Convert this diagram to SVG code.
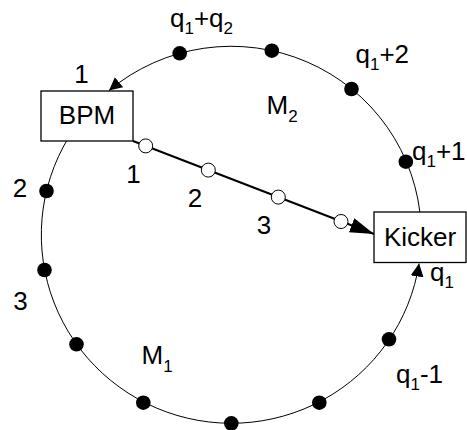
<svg xmlns="http://www.w3.org/2000/svg" width="467" height="430" viewBox="0 0 467 430">
<style>
text{font-family:"Liberation Sans",Arial,sans-serif;font-size:26px;fill:#000}
.s{font-size:17px}
.ring{fill:none;stroke:#000;stroke-width:1}
.beam{fill:none;stroke:#000;stroke-width:2}
.dot{fill:#000}
.odot{fill:#fff;stroke:#000;stroke-width:1}
.box{fill:#fff;stroke:#000;stroke-width:1.3}
</style>
<defs>
<marker id="a" markerUnits="userSpaceOnUse" markerWidth="14" markerHeight="14" refX="13" refY="6.5" orient="auto"><path d="M0,0 L13,6.5 L0,13 z" fill="#000"/></marker>
<marker id="b" markerUnits="userSpaceOnUse" markerWidth="26" markerHeight="16" refX="24" refY="7.5" orient="auto"><path d="M0,0 L24,7.5 L0,15 z" fill="#000"/></marker>
</defs>
<g id="connectors">
<path class="ring" d="M421,224.9 A190,188.5 0 0 0 109,90.5" marker-end="url(#a)"/>
<path class="ring" d="M80.6,120 A190,188.5 0 1 0 419.1,263.5" marker-end="url(#a)"/>
<path class="beam" d="M133,141 L374,234" marker-end="url(#b)"/>
</g>
<g id="dots">
<circle class="dot" cx="179.7" cy="53.3" r="7.3"/>
<circle class="dot" cx="271.8" cy="50.7" r="7.3"/>
<circle class="dot" cx="351.5" cy="89" r="7.3"/>
<circle class="dot" cx="405.8" cy="161.7" r="7.3"/>
<circle class="dot" cx="46.5" cy="191" r="7.3"/>
<circle class="dot" cx="44.5" cy="270" r="7.3"/>
<circle class="dot" cx="76.5" cy="344.3" r="7.3"/>
<circle class="dot" cx="143.3" cy="402.7" r="7.3"/>
<circle class="dot" cx="231.3" cy="423.3" r="7.3"/>
<circle class="dot" cx="319.3" cy="402.7" r="7.3"/>
<circle class="dot" cx="389" cy="339.3" r="7.3"/>
</g>
<g id="open-dots">
<circle class="odot" cx="145.7" cy="145.9" r="7"/>
<circle class="odot" cx="208.3" cy="170.1" r="7"/>
<circle class="odot" cx="278.3" cy="197.1" r="7"/>
<circle class="odot" cx="341" cy="221.5" r="7"/>
</g>
<g id="bpm">
<rect class="box" x="41" y="91" width="92" height="50"/>
<text x="87" y="124" text-anchor="middle">BPM</text>
</g>
<g id="kicker">
<rect class="box" x="374" y="212" width="92" height="50.5"/>
<text x="420" y="246" text-anchor="middle">Kicker</text>
</g>
<g id="labels">
<text x="170" y="27">q<tspan class="s" dy="7">1</tspan><tspan dy="-7">+q</tspan><tspan class="s" dy="7">2</tspan></text>
<text x="355.5" y="63">q<tspan class="s" dy="7">1</tspan><tspan dy="-7">+2</tspan></text>
<text x="412" y="160">q<tspan class="s" dy="7">1</tspan><tspan dy="-7">+1</tspan></text>
<text x="430" y="281">q<tspan class="s" dy="7">1</tspan></text>
<text x="396" y="383">q<tspan class="s" dy="7">1</tspan><tspan dy="-7">-1</tspan></text>
<text x="266.5" y="114">M<tspan class="s" dy="8">2</tspan></text>
<text x="141.5" y="364">M<tspan class="s" dy="8">1</tspan></text>
<text x="81.5" y="83" text-anchor="middle">1</text>
<text x="133.5" y="183" text-anchor="middle">1</text>
<text x="195" y="207" text-anchor="middle">2</text>
<text x="264" y="234" text-anchor="middle">3</text>
<text x="20" y="197" text-anchor="middle">2</text>
<text x="20.5" y="310" text-anchor="middle">3</text>
</g>
</svg>
